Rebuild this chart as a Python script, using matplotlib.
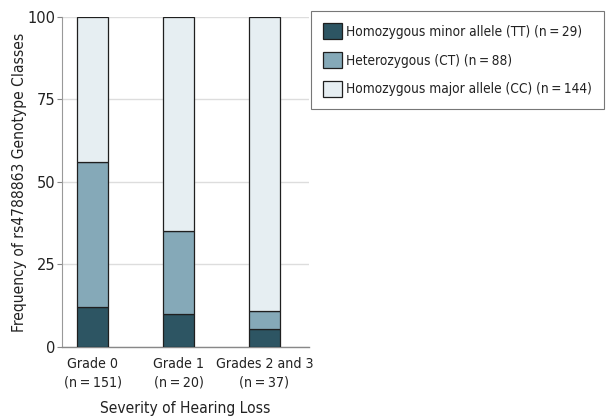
import numpy as np
import matplotlib.pyplot as plt

# 字体：DejaVu Sans Condensed
plt.rcParams['font.family'] = ['DejaVu Sans']
plt.rcParams['font.stretch'] = 'condensed'

ts = '\u2009=\u2009'
groups = ['Grade 0\n(n' + ts + '151)', 'Grade 1\n(n' + ts + '20)',
          'Grades 2 and 3\n(n' + ts + '37)']
yticks = [0, 25, 50, 75, 100]
tt = [12, 10, 5.4]
ct = [44, 25, 5.5]
cc = [44, 65, 89.1]
labels = ['Homozygous minor allele (TT) (n' + ts + '29)',
          'Heterozygous (CT) (n' + ts + '88)',
          'Homozygous major allele (CC) (n' + ts + '144)']
colors = ['#2d5563', '#85a9b8', '#e6eef2']

fig = plt.figure(figsize=(6.09, 4.16), dpi=100)
ax = fig.add_axes([0.1018, 0.1659, 0.4055, 0.7933])

x = np.arange(len(groups))
w = 0.36
bottom = np.zeros(len(groups))
handles = []
for vals, c, lab in zip([tt, ct, cc], colors, labels):
    h = ax.bar(x, vals, w, bottom=bottom, color=c, edgecolor='#1f1f1f',
               linewidth=0.9, label=lab, zorder=3)
    handles.append(h)
    bottom += np.array(vals)

ax.set_xlim(-0.355, 2.517)
ax.set_ylim(0, 100)
ax.set_yticks(yticks, labels=[str(v) for v in yticks], fontstretch='normal',
              fontsize=10.5, color='#222222')
ax.set_xticks(x)
ax.set_xticklabels(groups, fontsize=10.2, color='#222222', linespacing=1.45)
ax.tick_params(axis='x', length=0, pad=7)
ax.tick_params(axis='y', length=3.5, color='#888888', width=0.8, pad=1.5)
ax.yaxis.grid(True, color='#dddddd', linewidth=1, zorder=0)
for s in ['top', 'right']:
    ax.spines[s].set_visible(False)
ax.spines['left'].set_color('#999999')
ax.spines['bottom'].set_color('#888888')
ax.spines['left'].set_linewidth(0.8)
ax.spines['bottom'].set_linewidth(1)

ax.set_ylabel('Frequency of rs4788863 Genotype Classes', fontsize=11.2,
              color='#222222')
ax.yaxis.set_label_coords(-0.14, 0.5)
ax.set_xlabel('Severity of Hearing Loss', fontsize=11.2, color='#222222',
              labelpad=8)

leg = fig.legend(handles=handles, labels=labels, loc='upper left',
                 bbox_to_anchor=(310.5 / 609, 1 - 11 / 416), fontsize=9.8,
                 frameon=True, fancybox=False, edgecolor='#555555',
                 handlelength=1.4, handleheight=1.4, handletextpad=0.3,
                 labelspacing=0.97, borderpad=0.9, borderaxespad=0)
leg.get_frame().set_linewidth(0.8)
for t in leg.get_texts():
    t.set_color('#222222')

plt.savefig('out.png', dpi=100)
